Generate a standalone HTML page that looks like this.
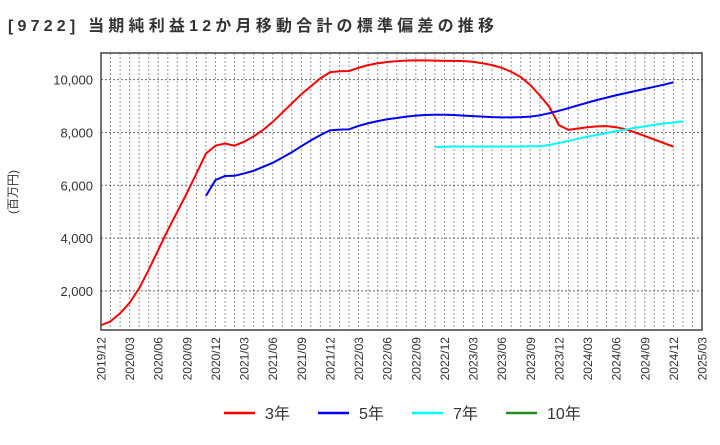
<!DOCTYPE html>
<html><head><meta charset="utf-8"><style>
body{margin:0;background:#fff;font-family:"Liberation Sans","Noto Sans CJK JP",sans-serif;}
</style></head><body>
<svg id="c" width="720" height="440" xmlns="http://www.w3.org/2000/svg">
<text x="8" y="31" font-size="16" font-weight="bold" fill="#333" textLength="486" lengthAdjust="spacing" font-family="Liberation Sans, Noto Sans CJK JP, sans-serif">[9722]  当期純利益12か月移動合計の標準偏差の推移</text>
<text transform="translate(17,192) rotate(-90)" text-anchor="middle" font-size="12" fill="#333" font-family="Liberation Sans, Noto Sans CJK JP, sans-serif">(百万円)</text>
<g id="grid"></g><g id="series"></g><g id="axes"></g>
<g id="legend" font-size="16" fill="#333" font-family="Liberation Sans, Noto Sans CJK JP, sans-serif"></g>
</svg>
<script>
const red=[700,850,1150,1550,2100,2800,3550,4300,5000,5700,6450,7200,7500,7580,7500,7650,7850,8100,8400,8750,9100,9450,9750,10050,10280,10320,10330,10450,10550,10620,10670,10700,10720,10730,10730,10720,10710,10710,10700,10680,10620,10550,10450,10300,10100,9800,9400,8970,8280,8100,8150,8200,8230,8240,8200,8120,8000,7870,7730,7600,7460];
const blue=[5600,6200,6350,6360,6450,6550,6700,6850,7050,7250,7480,7700,7900,8080,8110,8120,8250,8350,8430,8500,8550,8600,8640,8660,8670,8670,8660,8640,8620,8600,8580,8570,8570,8580,8600,8650,8730,8820,8920,9030,9130,9230,9320,9410,9490,9570,9650,9730,9810,9900];
const blueStart=11;
const cyan=[7450,7460,7470,7470,7470,7470,7470,7470,7470,7470,7480,7480,7530,7600,7680,7760,7840,7910,7980,8050,8110,8180,8230,8290,8340,8380,8420];
const cyanStart=35;
const yTicks=[2000,4000,6000,8000,10000];
const xLabels=["2019/12","2020/03","2020/06","2020/09","2020/12","2021/03","2021/06","2021/09","2021/12","2022/03","2022/06","2022/09","2022/12","2023/03","2023/06","2023/09","2023/12","2024/03","2024/06","2024/09","2024/12","2025/03"];
const L=101,R=702,T=53,B=330,NM=63,YMIN=520,YMAX=11010;
const X=i=>L+(R-L)*i/NM;
const Y=v=>B-(B-T)*(v-YMIN)/(YMAX-YMIN);
const NS="http://www.w3.org/2000/svg";
function mk(tag,attrs,parent){const e=document.createElementNS(NS,tag);for(const k in attrs)e.setAttribute(k,attrs[k]);document.getElementById(parent).appendChild(e);return e;}
for(let i=1;i<NM;i++){const e=mk('line',{x1:X(i),x2:X(i),y1:T,y2:B,stroke:'#999','stroke-width':1,'stroke-dasharray':'2,2'},'grid');

}
yTicks.forEach(v=>{const e=mk('line',{x1:L,x2:R,y1:Y(v),y2:Y(v),stroke:'#666','stroke-width':1,'stroke-dasharray':'2,2'},'grid');


const t=mk('text',{x:L-8,y:Y(v)+5,'text-anchor':'end','font-size':13,fill:'#333'},'axes');t.textContent=v.toLocaleString('en-US');

});
xLabels.forEach((s,k)=>{const x=X(k*3);const t=mk('text',{transform:`translate(${x+4.5},337) rotate(-90)`,'text-anchor':'end','font-size':12,fill:'#333'},'axes');t.textContent=s;

});
const fr=mk('rect',{x:L,y:T,width:R-L,height:B-T,fill:'none',stroke:'#444','stroke-width':1.5},'axes');


function line(arr,start,color,name){const p=mk('polyline',{points:arr.map((v,i)=>X(i+start)+','+Y(v)).join(' '),fill:'none',stroke:color,'stroke-width':2},'series');

}
line(red,0,'#ff0000','series-3y');
line(blue,blueStart,'#0000ff','series-5y');
line(cyan,cyanStart,'#00ffff','series-7y');
const leg=[['3年','#ff0000',224],['5年','#0000ff',318],['7年','#00ffff',412],['10年','#228b22',506]];
leg.forEach(([lab,c,x])=>{const g=mk('g',{},'legend');


const l=document.createElementNS(NS,'line');l.setAttribute('x1',x);l.setAttribute('x2',x+31);l.setAttribute('y1',413);l.setAttribute('y2',413);l.setAttribute('stroke',c);l.setAttribute('stroke-width',2.5);g.appendChild(l);
const t=document.createElementNS(NS,'text');t.setAttribute('x',x+41);t.setAttribute('y',419);t.textContent=lab;g.appendChild(t);});
</script>
</body></html>
